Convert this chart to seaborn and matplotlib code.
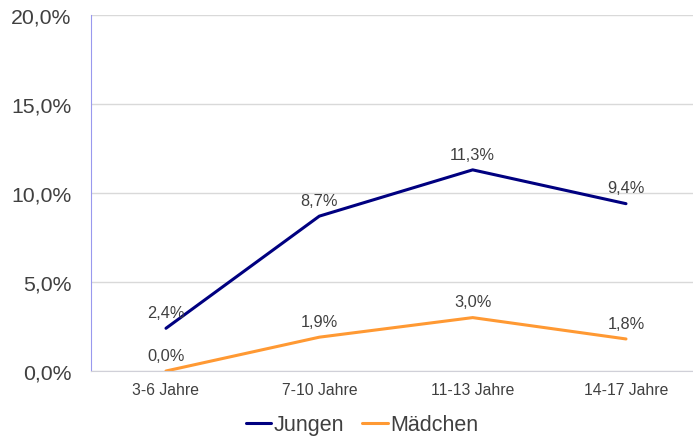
import matplotlib
matplotlib.use("Agg")
import matplotlib.pyplot as plt
import seaborn as sns
import pandas as pd

categories = ["3-6 Jahre", "7-10 Jahre", "11-13 Jahre", "14-17 Jahre"]
jungen = [2.4, 8.7, 11.3, 9.4]
maedchen = [0.0, 1.9, 3.0, 1.8]
series_names = ["Jungen", "Mädchen"]
colors = ["#000080", "#FF9933"]

df = pd.DataFrame({
    "pos": list(range(len(categories))) * 2,
    "wert": jungen + maedchen,
    "gruppe": [series_names[0]] * len(jungen) + [series_names[1]] * len(maedchen),
})

sns.set_style("white")
plt.rcParams["font.family"] = ["Liberation Sans", "DejaVu Sans"]
text_color = "#404040"

fig = plt.figure(figsize=(6.93, 4.39), dpi=100)
ax = fig.add_axes([91 / 693, 67 / 439, 602 / 693, 356 / 439])

sns.lineplot(data=df, x="pos", y="wert", hue="gruppe", palette=colors,
             linewidth=2.2, ax=ax, legend=True)

# data labels
for vals in (jungen, maedchen):
    for i, v in enumerate(vals):
        ax.annotate(f"{v:.1f}%".replace(".", ","), (i, v), xytext=(0, 6),
                    textcoords="offset points", ha="center", va="bottom",
                    fontsize=11.8, color=text_color)

ax.set_ylim(0, 20)
ax.set_xlim(-0.489, 3.437)
ax.set_yticks([0, 5, 10, 15, 20])
ax.set_yticklabels([f"{t:.1f}%".replace(".", ",") for t in [0, 5, 10, 15, 20]],
                   fontsize=15.3, color=text_color)
ax.set_xticks(range(len(categories)))
ax.set_xticklabels(categories, fontsize=11.3, color=text_color)
ax.tick_params(axis="x", length=0, pad=8)
ax.tick_params(axis="y", length=0, pad=14)
ax.set_xlabel("")
ax.set_ylabel("")

ax.grid(axis="y", color="#D9D9D9", linewidth=1)
ax.set_axisbelow(True)
for side in ["right", "top"]:
    ax.spines[side].set_visible(False)
ax.spines["left"].set_color("#9999EE")
ax.spines["bottom"].set_color("#D0D0D8")
ax.axhline(20, color="#9999EE", linewidth=1.2, zorder=0.5)

handles, labels = ax.get_legend_handles_labels()
ax.legend(handles, labels, loc="center", bbox_to_anchor=(362 / 693, 13 / 439),
          bbox_transform=fig.transFigure, ncol=2, frameon=False,
          fontsize=15.5, handlelength=1.2, handletextpad=0.1, columnspacing=0.85,
          labelcolor=text_color)

fig.savefig("out.png", dpi=100)
